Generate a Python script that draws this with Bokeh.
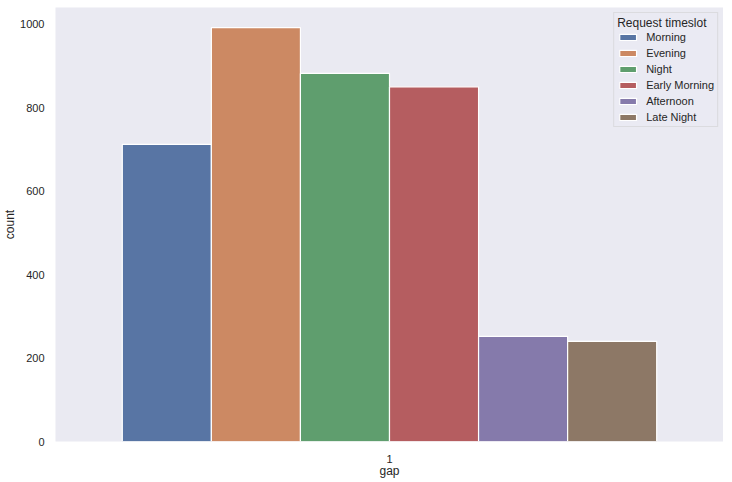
from bokeh.plotting import figure
from bokeh.models import Range1d, FactorRange, ColumnDataSource, Legend, LegendItem, FixedTicker
from bokeh.transform import dodge
from bokeh.embed import file_html
from bokeh.resources import INLINE

gap_categories = ["1"]
timeslots = ["Morning", "Evening", "Night", "Early Morning", "Afternoon", "Late Night"]
counts = [712, 992, 882, 850, 252, 240]
colors = ["#5875a4", "#cc8963", "#5f9e6e", "#b55d60", "#857aab", "#8d7866"]
y_ticks = [0, 200, 400, 600, 800, 1000]

TEXT = "#262626"
FONT = "Liberation Sans"

p = figure(x_range=FactorRange(factors=gap_categories), y_range=Range1d(0, 1040),
           frame_width=668, frame_height=434,
           output_backend="svg", toolbar_location=None,
           min_border_left=50, min_border_right=0, min_border_top=7, min_border_bottom=0,
           background_fill_color="#eaeaf2", border_fill_color="white")
p.outline_line_color = None
p.xgrid.grid_line_color = None
p.ygrid.grid_line_color = None

n = len(timeslots)
w = 0.8 / n
items = []
for i, (slot, c, col) in enumerate(zip(timeslots, counts, colors)):
    src = ColumnDataSource(dict(gap=gap_categories, count=[c]))
    off = -0.4 + w * (i + 0.5)
    r = p.vbar(x=dodge("gap", off, range=p.x_range), top="count", width=w, source=src,
               fill_color=col, line_color="white", line_width=1.2)
    items.append(LegendItem(label=slot, renderers=[r]))

legend = Legend(items=items, location="top_right", title="Request timeslot")
legend.margin = 5
legend.padding = 3
legend.spacing = 3
legend.label_height = 13
legend.glyph_height = 8
legend.glyph_width = 21
legend.label_standoff = 8
legend.title_standoff = 0
legend.label_text_font = FONT
legend.label_text_font_size = "11px"
legend.label_text_color = TEXT
legend.title_text_font = FONT
legend.title_text_font_size = "12px"
legend.title_text_font_style = "normal"
legend.title_text_color = TEXT
legend.background_fill_color = "#eaeaf2"
legend.background_fill_alpha = 0.8
legend.border_line_color = "#cccccc"
legend.border_line_width = 1
p.add_layout(legend)

for ax in (p.xaxis[0], p.yaxis[0]):
    ax.axis_line_color = None
    ax.major_tick_line_color = None
    ax.minor_tick_line_color = None
    ax.major_tick_out = 0
    ax.major_tick_in = 0
    ax.major_label_text_font = FONT
    ax.major_label_text_font_size = "11px"
    ax.major_label_text_color = TEXT
    ax.axis_label_text_font = FONT
    ax.axis_label_text_font_size = "12px"
    ax.axis_label_text_font_style = "normal"
    ax.axis_label_text_color = TEXT

p.yaxis.ticker = FixedTicker(ticks=y_ticks)
p.yaxis.axis_label = "count"
p.yaxis.major_label_standoff = 11
p.yaxis.axis_label_standoff = 0
p.xaxis.axis_label = "gap"
p.xaxis.major_label_standoff = 13
p.xaxis.axis_label_standoff = -2

open("out.html", "w").write(file_html(p, INLINE))
